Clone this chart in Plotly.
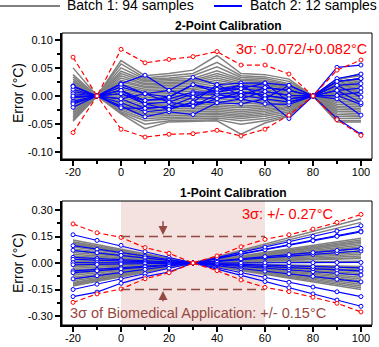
import plotly.graph_objects as go

# ---------------- data ----------------
temps = [-20, -10, 0, 10, 20, 30, 40, 50, 60, 70, 80, 90, 100]

x_tick_vals = [-20, 0, 20, 40, 60, 80, 100]
x_tick_text = ["-20", "0", "20", "40", "60", "80", "100"]
y2pt_tick_vals = [-0.10, -0.05, 0.00, 0.05, 0.10]
y2pt_tick_text = ["-0.10", "-0.05", "0.00", "0.05", "0.10"]
y1pt_tick_vals = [-0.30, -0.15, 0.00, 0.15, 0.30]
y1pt_tick_text = ["-0.30", "-0.15", "0.00", "0.15", "0.30"]

gray_2pt = [
    [0.050, 0, 0.063, 0.036, 0.040, 0.046, 0.072, 0.040, 0.038, 0.030, 0, 0.028, 0.040],
    [0.038, 0, 0.057, 0.032, 0.036, 0.040, 0.060, 0.036, 0.034, 0.026, 0, 0.030, 0.036],
    [0.034, 0, 0.050, 0.030, 0.032, 0.036, 0.052, 0.033, 0.031, 0.022, 0, 0.024, 0.032],
    [0.030, 0, 0.044, 0.027, 0.030, 0.031, 0.045, 0.030, 0.028, 0.020, 0, 0.022, 0.030],
    [0.027, 0, 0.040, 0.025, 0.027, 0.028, 0.040, 0.028, 0.026, 0.018, 0, 0.020, 0.027],
    [0.024, 0, 0.036, 0.022, 0.024, 0.026, 0.036, 0.025, 0.024, 0.016, 0, 0.018, 0.025],
    [0.021, 0, 0.032, 0.020, 0.022, 0.023, 0.032, 0.022, 0.021, 0.015, 0, 0.016, 0.022],
    [0.018, 0, 0.028, 0.017, 0.019, 0.020, 0.028, 0.020, 0.019, 0.013, 0, 0.014, 0.020],
    [0.015, 0, 0.025, 0.015, 0.016, 0.017, 0.024, 0.017, 0.016, 0.011, 0, 0.012, 0.017],
    [0.012, 0, 0.021, 0.012, 0.013, 0.014, 0.020, 0.014, 0.014, 0.009, 0, 0.010, 0.014],
    [0.010, 0, 0.018, 0.009, 0.010, 0.011, 0.016, 0.011, 0.011, 0.007, 0, 0.008, 0.011],
    [0.007, 0, 0.015, 0.006, 0.007, 0.008, 0.012, 0.008, 0.008, 0.005, 0, 0.006, 0.008],
    [0.004, 0, 0.012, 0.003, 0.004, 0.005, 0.008, 0.005, 0.006, 0.003, 0, 0.004, 0.005],
    [0.002, 0, 0.009, 0.000, 0.001, 0.002, 0.005, 0.002, 0.003, 0.002, 0, 0.002, 0.002],
    [-0.001, 0, 0.006, -0.003, -0.002, -0.001, 0.002, -0.001, 0.000, 0.000, 0, 0.000, -0.001],
    [-0.004, 0, 0.003, -0.006, -0.005, -0.004, -0.002, -0.004, -0.003, -0.002, 0, -0.003, -0.004],
    [-0.007, 0, 0.000, -0.009, -0.008, -0.007, -0.005, -0.008, -0.006, -0.004, 0, -0.006, -0.007],
    [-0.010, 0, -0.003, -0.012, -0.011, -0.010, -0.009, -0.011, -0.009, -0.006, 0, -0.009, -0.010],
    [-0.013, 0, -0.006, -0.015, -0.014, -0.013, -0.012, -0.014, -0.012, -0.008, 0, -0.012, -0.013],
    [-0.016, 0, -0.009, -0.018, -0.017, -0.016, -0.015, -0.018, -0.015, -0.010, 0, -0.015, -0.016],
    [-0.019, 0, -0.012, -0.021, -0.020, -0.019, -0.018, -0.021, -0.018, -0.012, 0, -0.018, -0.019],
    [-0.022, 0, -0.014, -0.024, -0.023, -0.022, -0.021, -0.025, -0.021, -0.015, 0, -0.021, -0.022],
    [-0.025, 0, -0.016, -0.027, -0.026, -0.025, -0.024, -0.028, -0.024, -0.018, 0, -0.024, -0.025],
    [-0.028, 0, -0.018, -0.030, -0.029, -0.028, -0.027, -0.031, -0.027, -0.020, 0, -0.027, -0.028],
    [-0.031, 0, -0.020, -0.033, -0.032, -0.031, -0.030, -0.034, -0.030, -0.022, 0, -0.030, -0.031],
    [-0.034, 0, -0.022, -0.036, -0.035, -0.034, -0.033, -0.037, -0.033, -0.025, 0, -0.033, -0.034],
    [-0.037, 0, -0.025, -0.040, -0.038, -0.037, -0.036, -0.040, -0.036, -0.028, 0, -0.036, -0.037],
    [-0.040, 0, -0.028, -0.044, -0.041, -0.040, -0.039, -0.044, -0.040, -0.031, 0, -0.040, -0.040],
    [-0.043, 0, -0.030, -0.050, -0.044, -0.043, -0.042, -0.050, -0.044, -0.034, 0, -0.044, -0.044],
    [-0.045, 0, -0.032, -0.058, -0.046, -0.045, -0.044, -0.068, -0.048, -0.036, 0, -0.046, -0.046],
]

blue_2pt = [
    [0.018, 0, 0.022, 0.037, 0.010, 0.033, 0.020, 0.023, 0.023, 0.019, 0, 0.051, 0.055],
    [0.008, 0, 0.016, 0.004, -0.002, 0.020, 0.012, 0.019, 0.015, 0.010, 0, 0.031, 0.039],
    [0.004, 0, 0.010, -0.008, -0.005, 0.007, 0.007, 0.013, 0.008, 0.001, 0, 0.026, 0.031],
    [-0.002, 0, 0.004, -0.014, -0.011, 0.004, 0.003, 0.007, 0.001, -0.005, 0, 0.019, 0.022],
    [-0.009, 0, -0.005, -0.022, -0.019, -0.002, -0.005, 0.001, -0.005, -0.011, 0, 0.010, 0.014],
    [-0.012, 0, -0.012, -0.028, -0.024, -0.011, -0.012, -0.005, -0.014, -0.015, 0, 0.001, 0.007],
    [-0.020, 0, -0.018, -0.037, -0.028, -0.033, -0.012, -0.014, -0.005, -0.040, 0, -0.040, -0.068],
    [0.012, 0, 0.021, 0.004, -0.011, -0.018, 0.003, -0.005, 0.008, 0.001, 0, -0.005, -0.034],
    [-0.003, 0, -0.021, -0.022, -0.019, -0.018, -0.005, 0.007, 0.001, -0.005, 0, 0.001, -0.015],
    [0.017, 0, 0.010, -0.014, -0.024, -0.011, 0.020, 0.001, 0.015, 0.010, 0, 0.010, -0.012],
    [-0.014, 0, 0.004, -0.008, -0.002, 0.020, 0.007, 0.019, -0.005, 0.019, 0, 0.019, -0.002],
    [0.000, 0, -0.005, 0.004, 0.010, -0.002, 0.012, 0.013, 0.023, -0.011, 0, 0.026, 0.031],
]

red_2pt_upper = [0.069, 0, 0.083, 0.059, 0.065, 0.070, 0.079, 0.055, 0.055, 0.039, 0, 0.046, 0.064]
red_2pt_lower = [-0.065, 0, -0.059, -0.073, -0.068, -0.067, -0.061, -0.071, -0.059, -0.034, 0, -0.042, -0.070]

gray_1pt = [
    [0.13, 0.104, 0.078, 0.052, 0.026, 0, -0.021, -0.043, -0.064, -0.086, -0.107, -0.129, -0.15],
    [0.12, 0.096, 0.072, 0.048, 0.024, 0, -0.017, -0.034, -0.051, -0.069, -0.086, -0.103, -0.12],
    [0.11, 0.088, 0.066, 0.044, 0.022, 0, -0.019, -0.037, -0.056, -0.074, -0.093, -0.111, -0.13],
    [0.10, 0.080, 0.060, 0.040, 0.020, 0, -0.014, -0.029, -0.043, -0.057, -0.071, -0.086, -0.10],
    [0.09, 0.072, 0.054, 0.036, 0.018, 0, -0.016, -0.031, -0.047, -0.063, -0.079, -0.094, -0.11],
    [0.08, 0.064, 0.048, 0.032, 0.016, 0, -0.011, -0.023, -0.034, -0.046, -0.057, -0.069, -0.08],
    [0.07, 0.056, 0.042, 0.028, 0.014, 0, -0.013, -0.026, -0.039, -0.051, -0.064, -0.077, -0.09],
    [0.06, 0.048, 0.036, 0.024, 0.012, 0, -0.009, -0.017, -0.026, -0.034, -0.043, -0.051, -0.06],
    [0.05, 0.040, 0.030, 0.020, 0.010, 0, -0.010, -0.020, -0.030, -0.040, -0.050, -0.060, -0.07],
    [0.04, 0.032, 0.024, 0.016, 0.008, 0, -0.006, -0.011, -0.017, -0.023, -0.029, -0.034, -0.04],
    [0.03, 0.024, 0.018, 0.012, 0.006, 0, -0.007, -0.014, -0.021, -0.029, -0.036, -0.043, -0.05],
    [0.02, 0.016, 0.012, 0.008, 0.004, 0, -0.003, -0.006, -0.009, -0.011, -0.014, -0.017, -0.02],
    [0.01, 0.008, 0.006, 0.004, 0.002, 0, -0.004, -0.009, -0.013, -0.017, -0.021, -0.026, -0.03],
    [-0.005, -0.004, -0.003, -0.002, -0.001, 0, 0.001, 0.003, 0.004, 0.006, 0.007, 0.009, 0.01],
    [-0.015, -0.012, -0.009, -0.006, -0.003, 0, 0.004, 0.007, 0.011, 0.014, 0.018, 0.021, 0.025],
    [-0.02, -0.016, -0.012, -0.008, -0.004, 0, 0.004, 0.009, 0.013, 0.017, 0.021, 0.026, 0.03],
    [-0.03, -0.024, -0.018, -0.012, -0.006, 0, 0.006, 0.011, 0.017, 0.023, 0.029, 0.034, 0.04],
    [-0.04, -0.032, -0.024, -0.016, -0.008, 0, 0.007, 0.014, 0.021, 0.029, 0.036, 0.043, 0.05],
    [-0.05, -0.040, -0.030, -0.020, -0.010, 0, 0.009, 0.017, 0.026, 0.034, 0.043, 0.051, 0.06],
    [-0.06, -0.048, -0.036, -0.024, -0.012, 0, 0.010, 0.020, 0.030, 0.040, 0.050, 0.060, 0.07],
    [-0.07, -0.056, -0.042, -0.028, -0.014, 0, 0.011, 0.023, 0.034, 0.046, 0.057, 0.069, 0.08],
    [-0.08, -0.064, -0.048, -0.032, -0.016, 0, 0.013, 0.026, 0.039, 0.051, 0.064, 0.077, 0.09],
    [-0.09, -0.072, -0.054, -0.036, -0.018, 0, 0.014, 0.029, 0.043, 0.057, 0.071, 0.086, 0.10],
    [-0.10, -0.080, -0.060, -0.040, -0.020, 0, 0.016, 0.031, 0.047, 0.063, 0.079, 0.094, 0.11],
    [-0.11, -0.088, -0.066, -0.044, -0.022, 0, 0.017, 0.034, 0.051, 0.069, 0.086, 0.103, 0.12],
    [-0.12, -0.096, -0.072, -0.048, -0.024, 0, 0.019, 0.037, 0.056, 0.074, 0.093, 0.111, 0.13],
    [-0.13, -0.104, -0.078, -0.052, -0.026, 0, 0.020, 0.040, 0.060, 0.080, 0.100, 0.120, 0.14],
    [0.115, 0.092, 0.069, 0.046, 0.023, 0, 0.036, 0.071, 0.107, 0.143, 0.179, 0.214, 0.25],
    [-0.125, -0.100, -0.075, -0.050, -0.025, 0, 0.033, 0.066, 0.099, 0.131, 0.164, 0.197, 0.23],
    [-0.115, -0.092, -0.069, -0.046, -0.023, 0, -0.020, -0.040, -0.060, -0.080, -0.100, -0.120, -0.14],
    [0.105, 0.084, 0.063, 0.042, 0.021, 0, 0.017, 0.034, 0.051, 0.069, 0.086, 0.103, 0.12],
]

blue_1pt = [
    [0.16, 0.128, 0.100, 0.064, 0.032, 0, -0.035, -0.070, -0.105, -0.140, -0.175, -0.210, -0.245],
    [0.098, 0.078, 0.059, 0.039, 0.020, 0, -0.027, -0.054, -0.081, -0.109, -0.136, -0.163, -0.19],
    [0.072, 0.058, 0.043, 0.029, 0.014, 0, -0.015, -0.031, -0.046, -0.061, -0.076, -0.092, -0.107],
    [0.032, 0.026, 0.019, 0.013, 0.006, 0, -0.010, -0.019, -0.029, -0.039, -0.049, -0.058, -0.068],
    [0.021, 0.017, 0.013, 0.008, 0.004, 0, -0.006, -0.013, -0.019, -0.026, -0.032, -0.039, -0.045],
    [0.002, 0.002, 0.001, 0.001, 0.000, 0, -0.004, -0.008, -0.012, -0.016, -0.020, -0.024, -0.028],
    [-0.010, -0.008, -0.006, -0.004, -0.002, 0, 0.026, 0.052, 0.078, 0.103, 0.129, 0.155, 0.181],
    [-0.045, -0.036, -0.027, -0.018, -0.009, 0, 0.000, 0.001, 0.001, 0.002, 0.002, 0.003, 0.003],
    [-0.055, -0.044, -0.033, -0.022, -0.011, 0, 0.010, 0.019, 0.029, 0.039, 0.049, 0.058, 0.068],
    [-0.090, -0.072, -0.054, -0.036, -0.018, 0, 0.012, 0.024, 0.036, 0.047, 0.059, 0.071, 0.083],
    [-0.150, -0.120, -0.090, -0.060, -0.030, 0, 0.025, 0.050, 0.075, 0.100, 0.126, 0.151, 0.176],
    [-0.190, -0.165, -0.115, -0.077, -0.051, 0, 0.030, 0.060, 0.090, 0.121, 0.151, 0.181, 0.211],
]

red_1pt_upper = [0.221, 0.171, 0.145, 0.087, 0.055, 0, 0.040, 0.092, 0.134, 0.160, 0.192, 0.230, 0.275]
red_1pt_lower = [-0.223, -0.175, -0.147, -0.089, -0.055, 0, -0.043, -0.096, -0.138, -0.162, -0.194, -0.228, -0.277]

biomed_band = [0, 60]      # temperature range of the biomedical application
biomed_limit = 0.15        # +/- 3 sigma requirement

# ---------------- styling ----------------
W, H = 379, 347
FONT = "Liberation Sans, Arial, sans-serif"
GRAY = "rgb(128,128,128)"
BLUE = "rgb(0,0,255)"
RED = "rgb(255,0,0)"
BROWN = "rgb(150,72,66)"


def px(x):
    return x / W


def py(y):
    return 1 - y / H


def joined(rows):
    xs, ys = [], []
    for r in rows:
        xs += temps + [None]
        ys += list(r) + [None]
    return xs, ys


fig = go.Figure()

for xa, ya, gray, blue, up, lo in [
    ("x", "y", gray_2pt, blue_2pt, red_2pt_upper, red_2pt_lower),
    ("x2", "y2", gray_1pt, blue_1pt, red_1pt_upper, red_1pt_lower),
]:
    gx, gy = joined(gray)
    fig.add_trace(go.Scatter(x=gx, y=gy, xaxis=xa, yaxis=ya, mode="lines",
                             line=dict(color=GRAY, width=1.5), hoverinfo="skip",
                             showlegend=False))
    bx, by = joined(blue)
    fig.add_trace(go.Scatter(x=bx, y=by, xaxis=xa, yaxis=ya, mode="lines+markers",
                             line=dict(color=BLUE, width=1.2),
                             marker=dict(symbol="circle", size=4, color="white",
                                         line=dict(color=BLUE, width=1)),
                             showlegend=False))
    for r in (up, lo):
        fig.add_trace(go.Scatter(x=temps, y=r, xaxis=xa, yaxis=ya, mode="lines+markers",
                                 line=dict(color=RED, width=1.2, dash="5px,3px"),
                                 marker=dict(symbol="circle", size=4, color="white",
                                             line=dict(color=RED, width=1)),
                                 showlegend=False))

xdom = [px(62), px(372)]
axis_common = dict(showline=True, linecolor="black", linewidth=2, ticks="outside",
                   ticklen=5, tickwidth=1.5, tickcolor="black", showgrid=False,
                   zeroline=False, tickfont=dict(family=FONT, size=11, color="black"),
                   mirror=False, automargin=False)

fig.update_layout(
    width=W, height=H, margin=dict(l=0, r=0, t=0, b=0), autosize=False,
    paper_bgcolor="white", plot_bgcolor="white", showlegend=False,
    font=dict(family=FONT, color="black"),
    xaxis=dict(domain=xdom, anchor="y", range=[-24.6, 104.6], tickmode="array",
               tickvals=x_tick_vals, ticktext=x_tick_text, ticklabelstandoff=-3,
               minor=dict(dtick=10, tick0=0, ticks="outside", ticklen=3, tickcolor="black"),
               **axis_common),
    yaxis=dict(domain=[py(159), py(33)], anchor="x", range=[-0.112, 0.112], tickmode="array",
               tickvals=y2pt_tick_vals, ticktext=y2pt_tick_text,
               minor=dict(dtick=0.025, tick0=0, ticks="outside", ticklen=3, tickcolor="black"),
               **axis_common),
    xaxis2=dict(domain=xdom, anchor="y2", range=[-24.6, 104.6], tickmode="array",
                tickvals=x_tick_vals, ticktext=x_tick_text, ticklabelstandoff=-3,
                minor=dict(dtick=10, tick0=0, ticks="outside", ticklen=3, tickcolor="black"),
                **axis_common),
    yaxis2=dict(domain=[py(325), py(201)], anchor="x2", range=[-0.351, 0.351], tickmode="array",
                tickvals=y1pt_tick_vals, ticktext=y1pt_tick_text,
                minor=dict(dtick=0.075, tick0=0, ticks="outside", ticklen=3, tickcolor="black"),
                **axis_common),
)

shapes = [
    # shaded biomedical range
    dict(type="rect", xref="x2", yref="y2 domain", x0=biomed_band[0], x1=biomed_band[1],
         y0=0, y1=1, fillcolor="rgba(215,160,150,0.3)", line=dict(width=0), layer="below"),
    # thin frames
    dict(type="rect", xref="x domain", yref="y domain", x0=0, x1=1, y0=0, y1=1,
         line=dict(color="black", width=1)),
    dict(type="rect", xref="x2 domain", yref="y2 domain", x0=0, x1=1, y0=0, y1=1,
         line=dict(color="black", width=1)),
    # biomedical limits
    dict(type="line", xref="x2", yref="y2", x0=biomed_band[0], x1=biomed_band[1],
         y0=biomed_limit, y1=biomed_limit, line=dict(color=BROWN, width=1.5, dash="9px,5px")),
    dict(type="line", xref="x2", yref="y2", x0=biomed_band[0], x1=biomed_band[1],
         y0=-biomed_limit, y1=-biomed_limit, line=dict(color=BROWN, width=1.5, dash="9px,5px")),
    # legend lines
    dict(type="line", xref="paper", yref="paper", x0=px(0), x1=px(60), y0=py(6), y1=py(6),
         line=dict(color=GRAY, width=2)),
    dict(type="line", xref="paper", yref="paper", x0=px(214), x1=px(242), y0=py(6), y1=py(6),
         line=dict(color=BLUE, width=2)),
]
fig.update_layout(shapes=shapes)

ann = []
ann.append(dict(text="Batch 1: 94 samples", x=px(65), y=py(4.5), xref="paper", yref="paper",
                xanchor="left", yanchor="middle", showarrow=False,
                font=dict(family=FONT, size=14, color="black")))
ann.append(dict(text="Batch 2: 12 samples", x=px(248), y=py(4.5), xref="paper", yref="paper",
                xanchor="left", yanchor="middle", showarrow=False,
                font=dict(family=FONT, size=14, color="black")))
ann.append(dict(text="<b>2-Point Calibration</b>", x=px(228), y=py(26), xref="paper", yref="paper",
                xanchor="center", yanchor="middle", showarrow=False,
                font=dict(family=FONT, size=12, color="black")))
ann.append(dict(text="<b>1-Point Calibration</b>", x=px(233), y=py(193), xref="paper", yref="paper",
                xanchor="center", yanchor="middle", showarrow=False,
                font=dict(family=FONT, size=12, color="black")))
for yc in (93, 263):
    ann.append(dict(text="Error (°C)", x=px(18), y=py(yc), xref="paper", yref="paper",
                    xanchor="center", yanchor="middle", textangle=-90, showarrow=False,
                    font=dict(family=FONT, size=14, color="black")))
ann.append(dict(text="Temperature (°C)", x=px(227), y=py(342), xref="paper", yref="paper",
                xanchor="center", yanchor="top", showarrow=False,
                font=dict(family=FONT, size=13.5, color="black")))
ann.append(dict(text="3σ: -0.072/+0.082°C", x=px(369), y=py(49), xref="paper", yref="paper",
                xanchor="right", yanchor="middle", showarrow=False,
                font=dict(family=FONT, size=14.5, color=RED)))
ann.append(dict(text="3σ: +/- 0.27°C", x=px(335), y=py(214), xref="paper", yref="paper",
                xanchor="right", yanchor="middle", showarrow=False,
                font=dict(family=FONT, size=14.5, color=RED)))
ann.append(dict(text="3σ of Biomedical Application: +/- 0.15°C", x=px(68), y=py(313),
                xref="paper", yref="paper", xanchor="left", yanchor="middle", showarrow=False,
                font=dict(family=FONT, size=14.5, color=BROWN)))
# arrows pointing to the limits
ann.append(dict(text="", x=17.5, y=0.158, xref="x2", yref="y2", ax=17.5, ay=0.245,
                axref="x2", ayref="y2", showarrow=True, arrowhead=2, arrowsize=1.2,
                arrowwidth=1.5, arrowcolor=BROWN))
ann.append(dict(text="", x=17.5, y=-0.158, xref="x2", yref="y2", ax=17.5, ay=-0.225,
                axref="x2", ayref="y2", showarrow=True, arrowhead=2, arrowsize=1.2,
                arrowwidth=1.5, arrowcolor=BROWN))
fig.update_layout(annotations=ann)

fig.write_html(
    "out.html",
    config={"displayModeBar": False},
    post_script="document.body.style.margin='0';document.body.style.overflow='hidden';",
)
